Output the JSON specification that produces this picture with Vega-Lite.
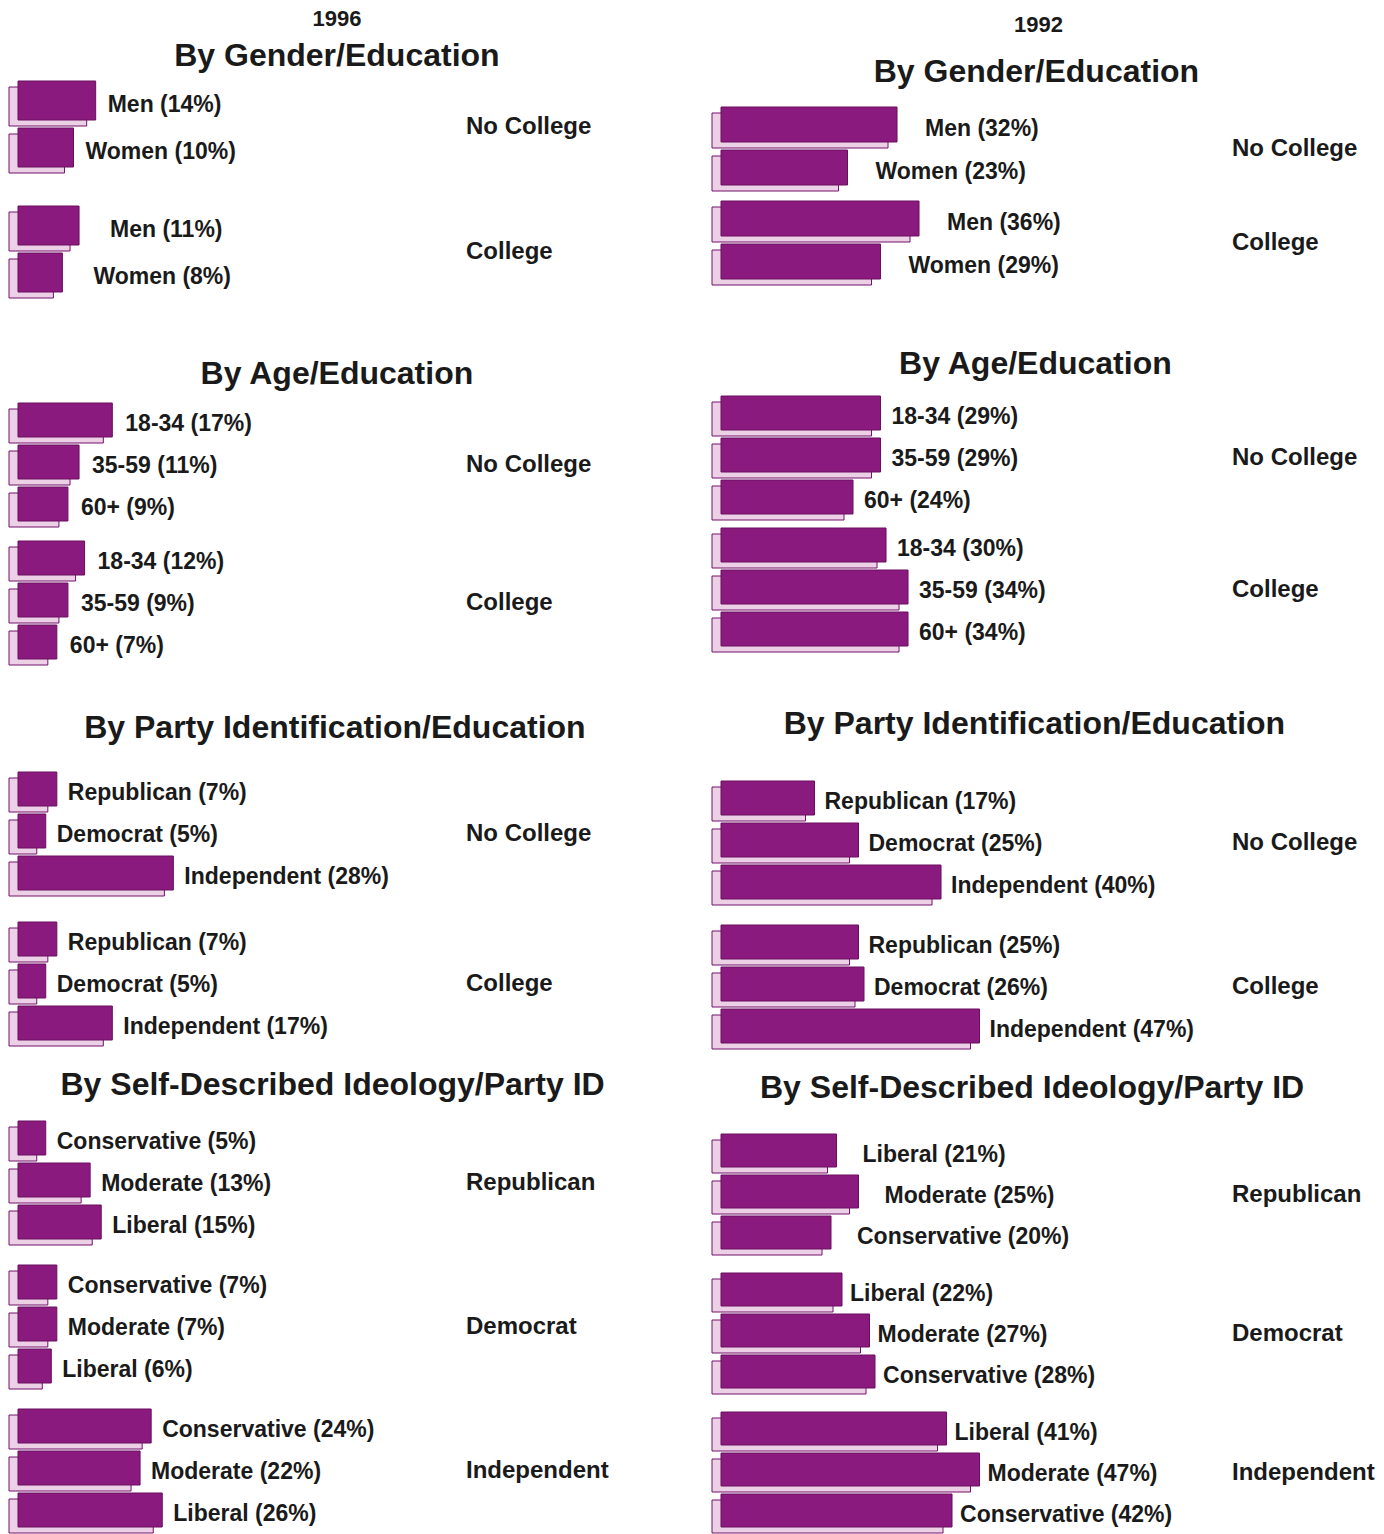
{
  "$schema": "https://vega.github.io/schema/vega-lite/v6.json",
  "background": "white",
  "padding": {"left": 8, "top": 8, "right": 0, "bottom": 0},
  "data": {"values": [
    {"year": "1996", "section": "gender", "group": "No College", "label": "Men", "value": 14, "text": "Men (14%)"},
    {"year": "1996", "section": "gender", "group": "No College", "label": "Women", "value": 10, "text": "Women (10%)"},
    {"year": "1996", "section": "gender", "group": "College", "label": "Men", "value": 11, "text": "Men (11%)"},
    {"year": "1996", "section": "gender", "group": "College", "label": "Women", "value": 8, "text": "Women (8%)"},
    {"year": "1996", "section": "age", "group": "No College", "label": "18-34", "value": 17, "text": "18-34 (17%)"},
    {"year": "1996", "section": "age", "group": "No College", "label": "35-59", "value": 11, "text": "35-59 (11%)"},
    {"year": "1996", "section": "age", "group": "No College", "label": "60+", "value": 9, "text": "60+ (9%)"},
    {"year": "1996", "section": "age", "group": "College", "label": "18-34", "value": 12, "text": "18-34 (12%)"},
    {"year": "1996", "section": "age", "group": "College", "label": "35-59", "value": 9, "text": "35-59 (9%)"},
    {"year": "1996", "section": "age", "group": "College", "label": "60+", "value": 7, "text": "60+ (7%)"},
    {"year": "1996", "section": "party", "group": "No College", "label": "Republican", "value": 7, "text": "Republican (7%)"},
    {"year": "1996", "section": "party", "group": "No College", "label": "Democrat", "value": 5, "text": "Democrat (5%)"},
    {"year": "1996", "section": "party", "group": "No College", "label": "Independent", "value": 28, "text": "Independent (28%)"},
    {"year": "1996", "section": "party", "group": "College", "label": "Republican", "value": 7, "text": "Republican (7%)"},
    {"year": "1996", "section": "party", "group": "College", "label": "Democrat", "value": 5, "text": "Democrat (5%)"},
    {"year": "1996", "section": "party", "group": "College", "label": "Independent", "value": 17, "text": "Independent (17%)"},
    {"year": "1996", "section": "ideology", "group": "Republican", "label": "Conservative", "value": 5, "text": "Conservative (5%)"},
    {"year": "1996", "section": "ideology", "group": "Republican", "label": "Moderate", "value": 13, "text": "Moderate (13%)"},
    {"year": "1996", "section": "ideology", "group": "Republican", "label": "Liberal", "value": 15, "text": "Liberal (15%)"},
    {"year": "1996", "section": "ideology", "group": "Democrat", "label": "Conservative", "value": 7, "text": "Conservative (7%)"},
    {"year": "1996", "section": "ideology", "group": "Democrat", "label": "Moderate", "value": 7, "text": "Moderate (7%)"},
    {"year": "1996", "section": "ideology", "group": "Democrat", "label": "Liberal", "value": 6, "text": "Liberal (6%)"},
    {"year": "1996", "section": "ideology", "group": "Independent", "label": "Conservative", "value": 24, "text": "Conservative (24%)"},
    {"year": "1996", "section": "ideology", "group": "Independent", "label": "Moderate", "value": 22, "text": "Moderate (22%)"},
    {"year": "1996", "section": "ideology", "group": "Independent", "label": "Liberal", "value": 26, "text": "Liberal (26%)"},
    {"year": "1992", "section": "gender", "group": "No College", "label": "Men", "value": 32, "text": "Men (32%)"},
    {"year": "1992", "section": "gender", "group": "No College", "label": "Women", "value": 23, "text": "Women (23%)"},
    {"year": "1992", "section": "gender", "group": "College", "label": "Men", "value": 36, "text": "Men (36%)"},
    {"year": "1992", "section": "gender", "group": "College", "label": "Women", "value": 29, "text": "Women (29%)"},
    {"year": "1992", "section": "age", "group": "No College", "label": "18-34", "value": 29, "text": "18-34 (29%)"},
    {"year": "1992", "section": "age", "group": "No College", "label": "35-59", "value": 29, "text": "35-59 (29%)"},
    {"year": "1992", "section": "age", "group": "No College", "label": "60+", "value": 24, "text": "60+ (24%)"},
    {"year": "1992", "section": "age", "group": "College", "label": "18-34", "value": 30, "text": "18-34 (30%)"},
    {"year": "1992", "section": "age", "group": "College", "label": "35-59", "value": 34, "text": "35-59 (34%)"},
    {"year": "1992", "section": "age", "group": "College", "label": "60+", "value": 34, "text": "60+ (34%)"},
    {"year": "1992", "section": "party", "group": "No College", "label": "Republican", "value": 17, "text": "Republican (17%)"},
    {"year": "1992", "section": "party", "group": "No College", "label": "Democrat", "value": 25, "text": "Democrat (25%)"},
    {"year": "1992", "section": "party", "group": "No College", "label": "Independent", "value": 40, "text": "Independent (40%)"},
    {"year": "1992", "section": "party", "group": "College", "label": "Republican", "value": 25, "text": "Republican (25%)"},
    {"year": "1992", "section": "party", "group": "College", "label": "Democrat", "value": 26, "text": "Democrat (26%)"},
    {"year": "1992", "section": "party", "group": "College", "label": "Independent", "value": 47, "text": "Independent (47%)"},
    {"year": "1992", "section": "ideology", "group": "Republican", "label": "Liberal", "value": 21, "text": "Liberal (21%)"},
    {"year": "1992", "section": "ideology", "group": "Republican", "label": "Moderate", "value": 25, "text": "Moderate (25%)"},
    {"year": "1992", "section": "ideology", "group": "Republican", "label": "Conservative", "value": 20, "text": "Conservative (20%)"},
    {"year": "1992", "section": "ideology", "group": "Democrat", "label": "Liberal", "value": 22, "text": "Liberal (22%)"},
    {"year": "1992", "section": "ideology", "group": "Democrat", "label": "Moderate", "value": 27, "text": "Moderate (27%)"},
    {"year": "1992", "section": "ideology", "group": "Democrat", "label": "Conservative", "value": 28, "text": "Conservative (28%)"},
    {"year": "1992", "section": "ideology", "group": "Independent", "label": "Liberal", "value": 41, "text": "Liberal (41%)"},
    {"year": "1992", "section": "ideology", "group": "Independent", "label": "Moderate", "value": 47, "text": "Moderate (47%)"},
    {"year": "1992", "section": "ideology", "group": "Independent", "label": "Conservative", "value": 42, "text": "Conservative (42%)"}
  ]},
  "spacing": 102,
  "hconcat": [
    {
      "spacing": 10,
      "vconcat": [
        {
          "width": 600, "height": 20,
          "transform": [{"filter": "datum.year === '1996'"}, {"aggregate": [{"op": "count", "as": "n"}], "groupby": ["year"]}],
          "mark": {"type": "text", "fontSize": 22, "font": "Liberation Sans", "fontWeight": "bold", "color": "#1a1a1a", "baseline": "middle", "dx": 28},
          "encoding": {"text": {"field": "year"}}
        },
        {
          "spacing": 59,
          "vconcat": [
            {
              "transform": [{"filter": "datum.year === '1996' && datum.section === 'gender'"}],
              "title": {"text": "By Gender/Education", "offset": 7, "dx": 37},
              "facet": {"row": {"field": "group", "type": "nominal", "sort": ["No College", "College"], "title": null, "header": {"labelPadding": 17}}},
              "spacing": {"row": 31},
              "spec": {
                "width": 440, "height": {"step": 47},
                "encoding": {
                  "y": {"field": "label", "type": "nominal", "sort": null, "axis": null, "scale": {"paddingInner": 0, "paddingOuter": 0}},
                  "x": {"field": "value", "type": "quantitative", "axis": null, "scale": {"domain": [0, 79.3], "nice": false, "zero": true}}
                },
                "layer": [
                  {"mark": {"type": "bar", "size": 39, "yOffset": 3, "color": "#ecd0e6", "stroke": "#74106a", "strokeWidth": 1}},
                  {"mark": {"type": "bar", "size": 39, "yOffset": -3, "xOffset": 9, "x2Offset": 9, "color": "#8a1a7e", "stroke": "#6a0e60", "strokeWidth": 1}},
                  {"mark": {"type": "text", "align": "left", "baseline": "middle", "dx": {"expr": "datum.group === 'College' ? 40 : 21"}, "dy": 1, "fontSize": 23, "font": "Liberation Sans", "fontWeight": "bold", "color": "#1a1a1a"}, "encoding": {"text": {"field": "text"}}}
                ]
              }
            },
            {
              "spacing": 46,
              "vconcat": [
                {
                  "transform": [{"filter": "datum.year === '1996' && datum.section === 'age'"}],
                  "title": {"text": "By Age/Education", "offset": 11, "dx": 37},
                  "facet": {"row": {"field": "group", "type": "nominal", "sort": ["No College", "College"], "title": null, "header": {"labelPadding": 17}}},
                  "spacing": {"row": 12},
                  "spec": {
                    "width": 440, "height": {"step": 42},
                    "encoding": {
                      "y": {"field": "label", "type": "nominal", "sort": null, "axis": null, "scale": {"paddingInner": 0, "paddingOuter": 0}},
                      "x": {"field": "value", "type": "quantitative", "axis": null, "scale": {"domain": [0, 79.3], "nice": false, "zero": true}}
                    },
                    "layer": [
                      {"mark": {"type": "bar", "size": 34, "yOffset": 3, "color": "#ecd0e6", "stroke": "#74106a", "strokeWidth": 1}},
                      {"mark": {"type": "bar", "size": 34, "yOffset": -3, "xOffset": 9, "x2Offset": 9, "color": "#8a1a7e", "stroke": "#6a0e60", "strokeWidth": 1}},
                      {"mark": {"type": "text", "align": "left", "baseline": "middle", "dx": 22, "dy": 1, "fontSize": 23, "font": "Liberation Sans", "fontWeight": "bold", "color": "#1a1a1a"}, "encoding": {"text": {"field": "text"}}}
                    ]
                  }
                },
                {
                  "spacing": 22,
                  "vconcat": [
                    {
                      "transform": [{"filter": "datum.year === '1996' && datum.section === 'party'"}],
                      "title": {"text": "By Party Identification/Education", "offset": 26, "dx": 35},
                      "facet": {"row": {"field": "group", "type": "nominal", "sort": ["No College", "College"], "title": null, "header": {"labelPadding": 17}}},
                      "spacing": {"row": 24},
                      "spec": {
                        "width": 440, "height": {"step": 42},
                        "encoding": {
                          "y": {"field": "label", "type": "nominal", "sort": null, "axis": null, "scale": {"paddingInner": 0, "paddingOuter": 0}},
                          "x": {"field": "value", "type": "quantitative", "axis": null, "scale": {"domain": [0, 79.3], "nice": false, "zero": true}}
                        },
                        "layer": [
                          {"mark": {"type": "bar", "size": 34, "yOffset": 3, "color": "#ecd0e6", "stroke": "#74106a", "strokeWidth": 1}},
                          {"mark": {"type": "bar", "size": 34, "yOffset": -3, "xOffset": 9, "x2Offset": 9, "color": "#8a1a7e", "stroke": "#6a0e60", "strokeWidth": 1}},
                          {"mark": {"type": "text", "align": "left", "baseline": "middle", "dx": 20, "dy": 1, "fontSize": 23, "font": "Liberation Sans", "fontWeight": "bold", "color": "#1a1a1a"}, "encoding": {"text": {"field": "text"}}}
                        ]
                      }
                    },
                    {
                      "transform": [{"filter": "datum.year === '1996' && datum.section === 'ideology'"}],
                      "title": {"text": "By Self-Described Ideology/Party ID", "offset": 18, "dx": 24},
                      "facet": {"row": {"field": "group", "type": "nominal", "sort": ["Republican", "Democrat", "Independent"], "title": null, "header": {"labelPadding": 17}}},
                      "spacing": {"row": 18},
                      "spec": {
                        "width": 440, "height": {"step": 42},
                        "encoding": {
                          "y": {"field": "label", "type": "nominal", "sort": null, "axis": null, "scale": {"paddingInner": 0, "paddingOuter": 0}},
                          "x": {"field": "value", "type": "quantitative", "axis": null, "scale": {"domain": [0, 79.3], "nice": false, "zero": true}}
                        },
                        "layer": [
                          {"mark": {"type": "bar", "size": 34, "yOffset": 3, "color": "#ecd0e6", "stroke": "#74106a", "strokeWidth": 1}},
                          {"mark": {"type": "bar", "size": 34, "yOffset": -3, "xOffset": 9, "x2Offset": 9, "color": "#8a1a7e", "stroke": "#6a0e60", "strokeWidth": 1}},
                          {"mark": {"type": "text", "align": "left", "baseline": "middle", "dx": 20, "dy": 1, "fontSize": 23, "font": "Liberation Sans", "fontWeight": "bold", "color": "#1a1a1a"}, "encoding": {"text": {"field": "text"}}}
                        ]
                      }
                    }
                  ]
                }
              ]
            }
          ]
        }
      ]
    },
    {
      "spacing": 15,
      "vconcat": [
        {
          "width": 663, "height": 32,
          "transform": [{"filter": "datum.year === '1992'"}, {"aggregate": [{"op": "count", "as": "n"}], "groupby": ["year"]}],
          "mark": {"type": "text", "fontSize": 22, "font": "Liberation Sans", "fontWeight": "bold", "color": "#1a1a1a", "baseline": "middle", "dx": -5},
          "encoding": {"text": {"field": "year"}}
        },
        {
          "spacing": 62,
          "vconcat": [
            {
              "transform": [{"filter": "datum.year === '1992' && datum.section === 'gender'"}],
              "title": {"text": "By Gender/Education", "offset": 17, "dx": 2},
              "facet": {"row": {"field": "group", "type": "nominal", "sort": ["No College", "College"], "title": null, "header": {"labelPadding": 20}}},
              "spacing": {"row": 8},
              "spec": {
                "width": 500, "height": {"step": 43},
                "encoding": {
                  "y": {"field": "label", "type": "nominal", "sort": null, "axis": null, "scale": {"paddingInner": 0, "paddingOuter": 0}},
                  "x": {"field": "value", "type": "quantitative", "axis": null, "scale": {"domain": [0, 90.9], "nice": false, "zero": true}}
                },
                "layer": [
                  {"mark": {"type": "bar", "size": 35, "yOffset": 3, "color": "#ecd0e6", "stroke": "#74106a", "strokeWidth": 1}},
                  {"mark": {"type": "bar", "size": 35, "yOffset": -3, "xOffset": 9, "x2Offset": 9, "color": "#8a1a7e", "stroke": "#6a0e60", "strokeWidth": 1}},
                  {"mark": {"type": "text", "align": "left", "baseline": "middle", "dx": 37, "dy": 1, "fontSize": 23, "font": "Liberation Sans", "fontWeight": "bold", "color": "#1a1a1a"}, "encoding": {"text": {"field": "text"}}}
                ]
              }
            },
            {
              "spacing": 55,
              "vconcat": [
                {
                  "transform": [{"filter": "datum.year === '1992' && datum.section === 'age'"}],
                  "title": {"text": "By Age/Education", "offset": 14, "dx": 1},
                  "facet": {"row": {"field": "group", "type": "nominal", "sort": ["No College", "College"], "title": null, "header": {"labelPadding": 20}}},
                  "spacing": {"row": 6},
                  "spec": {
                    "width": 500, "height": {"step": 42},
                    "encoding": {
                      "y": {"field": "label", "type": "nominal", "sort": null, "axis": null, "scale": {"paddingInner": 0, "paddingOuter": 0}},
                      "x": {"field": "value", "type": "quantitative", "axis": null, "scale": {"domain": [0, 90.9], "nice": false, "zero": true}}
                    },
                    "layer": [
                      {"mark": {"type": "bar", "size": 34, "yOffset": 3, "color": "#ecd0e6", "stroke": "#74106a", "strokeWidth": 1}},
                      {"mark": {"type": "bar", "size": 34, "yOffset": -3, "xOffset": 9, "x2Offset": 9, "color": "#8a1a7e", "stroke": "#6a0e60", "strokeWidth": 1}},
                      {"mark": {"type": "text", "align": "left", "baseline": "middle", "dx": 20, "dy": 1, "fontSize": 23, "font": "Liberation Sans", "fontWeight": "bold", "color": "#1a1a1a"}, "encoding": {"text": {"field": "text"}}}
                    ]
                  }
                },
                {
                  "spacing": 22,
                  "vconcat": [
                    {
                      "transform": [{"filter": "datum.year === '1992' && datum.section === 'party'"}],
                      "title": {"text": "By Party Identification/Education", "offset": 39, "dx": 0},
                      "facet": {"row": {"field": "group", "type": "nominal", "sort": ["No College", "College"], "title": null, "header": {"labelPadding": 20}}},
                      "spacing": {"row": 18},
                      "spec": {
                        "width": 500, "height": {"step": 42},
                        "encoding": {
                          "y": {"field": "label", "type": "nominal", "sort": null, "axis": null, "scale": {"paddingInner": 0, "paddingOuter": 0}},
                          "x": {"field": "value", "type": "quantitative", "axis": null, "scale": {"domain": [0, 90.9], "nice": false, "zero": true}}
                        },
                        "layer": [
                          {"mark": {"type": "bar", "size": 34, "yOffset": 3, "color": "#ecd0e6", "stroke": "#74106a", "strokeWidth": 1}},
                          {"mark": {"type": "bar", "size": 34, "yOffset": -3, "xOffset": 9, "x2Offset": 9, "color": "#8a1a7e", "stroke": "#6a0e60", "strokeWidth": 1}},
                          {"mark": {"type": "text", "align": "left", "baseline": "middle", "dx": 19, "dy": 1, "fontSize": 23, "font": "Liberation Sans", "fontWeight": "bold", "color": "#1a1a1a"}, "encoding": {"text": {"field": "text"}}}
                        ]
                      }
                    },
                    {
                      "transform": [{"filter": "datum.year === '1992' && datum.section === 'ideology'"}],
                      "title": {"text": "By Self-Described Ideology/Party ID", "offset": 28, "dx": -11},
                      "facet": {"row": {"field": "group", "type": "nominal", "sort": ["Republican", "Democrat", "Independent"], "title": null, "header": {"labelPadding": 20}}},
                      "spacing": {"row": 16},
                      "spec": {
                        "width": 500, "height": {"step": 41},
                        "encoding": {
                          "y": {"field": "label", "type": "nominal", "sort": null, "axis": null, "scale": {"paddingInner": 0, "paddingOuter": 0}},
                          "x": {"field": "value", "type": "quantitative", "axis": null, "scale": {"domain": [0, 90.9], "nice": false, "zero": true}}
                        },
                        "layer": [
                          {"mark": {"type": "bar", "size": 33, "yOffset": 3, "color": "#ecd0e6", "stroke": "#74106a", "strokeWidth": 1}},
                          {"mark": {"type": "bar", "size": 33, "yOffset": -3, "xOffset": 9, "x2Offset": 9, "color": "#8a1a7e", "stroke": "#6a0e60", "strokeWidth": 1}},
                          {"mark": {"type": "text", "align": "left", "baseline": "middle", "dx": {"expr": "datum.group === 'Republican' ? 35 : 17"}, "dy": 1, "fontSize": 23, "font": "Liberation Sans", "fontWeight": "bold", "color": "#1a1a1a"}, "encoding": {"text": {"field": "text"}}}
                        ]
                      }
                    }
                  ]
                }
              ]
            }
          ]
        }
      ]
    }
  ],
  "config": {
    "view": {"stroke": null},
    "title": {"font": "Liberation Sans", "fontSize": 32, "fontWeight": "bold", "color": "#1a1a1a", "anchor": "middle", "baseline": "alphabetic"},
    "header": {"labelOrient": "right", "labelAngle": 0, "labelAlign": "right", "labelBaseline": "middle", "labelFontSize": 24, "labelFont": "Liberation Sans", "labelFontWeight": "bold", "labelColor": "#1a1a1a"}
  }
}
